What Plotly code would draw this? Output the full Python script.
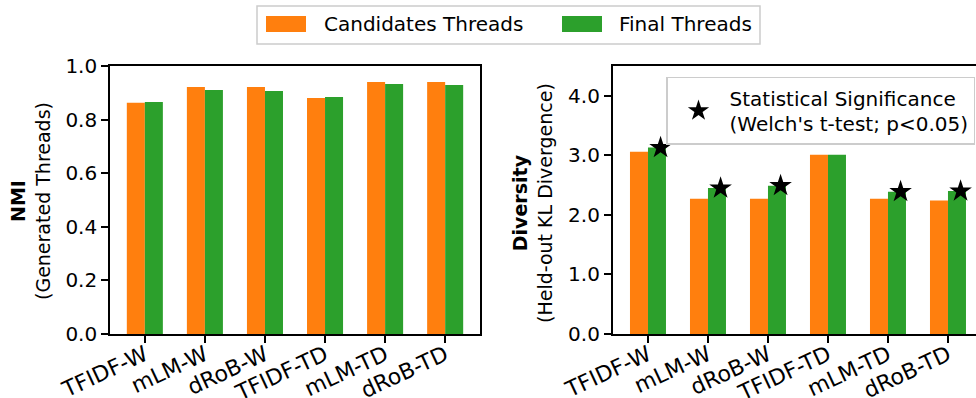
import plotly.graph_objects as go

# ---- data ----
methods = ["TFIDF-W", "mLM-W", "dRoB-W", "TFIDF-TD", "mLM-TD", "dRoB-TD"]
series_names = ["Candidates Threads", "Final Threads"]
nmi_candidates = [0.863, 0.922, 0.922, 0.881, 0.940, 0.940]
nmi_final = [0.866, 0.910, 0.907, 0.884, 0.933, 0.929]
div_candidates = [3.06, 2.27, 2.27, 3.01, 2.27, 2.24]
div_final = [3.13, 2.45, 2.49, 3.01, 2.39, 2.40]
significant = [True, True, True, False, True, True]
sig_label = "Statistical Significance<br>(Welch's t-test; p<0.05)"
nmi_ticks = [0.0, 0.2, 0.4, 0.6, 0.8, 1.0]
div_ticks = [0.0, 1.0, 2.0, 3.0, 4.0]

ORANGE = "#ff7f0e"
GREEN = "#2ca02c"
FONT = "DejaVu Sans"
W, H = 976, 398
BAR_W = 0.3
pos = list(range(len(methods)))

fig = go.Figure()

# NMI panel
fig.add_trace(go.Bar(x=[p - BAR_W / 2 for p in pos], y=nmi_candidates, width=BAR_W,
                     marker=dict(color=ORANGE, line=dict(width=0)),
                     name=series_names[0], showlegend=False, xaxis="x", yaxis="y"))
fig.add_trace(go.Bar(x=[p + BAR_W / 2 for p in pos], y=nmi_final, width=BAR_W,
                     marker=dict(color=GREEN, line=dict(width=0)),
                     name=series_names[1], showlegend=False, xaxis="x", yaxis="y"))

# Diversity panel
fig.add_trace(go.Bar(x=[p - BAR_W / 2 for p in pos], y=div_candidates, width=BAR_W,
                     marker=dict(color=ORANGE, line=dict(width=0)),
                     name=series_names[0], showlegend=False, xaxis="x2", yaxis="y2"))
fig.add_trace(go.Bar(x=[p + BAR_W / 2 for p in pos], y=div_final, width=BAR_W,
                     marker=dict(color=GREEN, line=dict(width=0)),
                     name=series_names[1], showlegend=False, xaxis="x2", yaxis="y2"))

# significance stars on the final-thread bars
sx = [p + 0.21 for p, s in zip(pos, significant) if s]
sy = [v for v, s in zip(div_final, significant) if s]
fig.add_trace(go.Scatter(x=sx, y=sy, mode="markers",
                         marker=dict(symbol="star", size=17, color="black",
                                     line=dict(width=0)),
                         name=sig_label, showlegend=True, legend="legend2",
                         xaxis="x2", yaxis="y2", cliponaxis=False))

ydom = [1 - 334 / H, 1 - 66 / H]
axis_common = dict(showline=True, linecolor="black", linewidth=1.6,
                   ticks="outside", ticklen=7, tickwidth=1.6, tickcolor="black",
                   showgrid=False, zeroline=False, automargin=False)
ytick_font = dict(family=FONT, size=20, color="black")
xtick_style = dict(tickvals=pos, ticktext=methods, tickangle=-25, mirror=True,
                   ticklabelstandoff=-9,
                   tickfont=dict(family=FONT, size=22, color="black"))

fig.update_layout(
    template="none",
    width=W, height=H,
    margin=dict(l=0, r=0, t=0, b=0, pad=0),
    paper_bgcolor="white", plot_bgcolor="white",
    font=dict(family=FONT, size=20, color="black"),
    barmode="overlay",
    xaxis=dict(domain=[110 / W, 480 / W], range=[-0.58, 5.58], anchor="y",
               **xtick_style, **axis_common),
    yaxis=dict(domain=ydom, range=[0, 1.0], anchor="x", tickvals=nmi_ticks,
               tickformat=".1f", mirror=True, tickfont=ytick_font, **axis_common),
    xaxis2=dict(domain=[612.7 / W, 1.0], range=[-0.588, 5.467], anchor="y2",
                **xtick_style, **axis_common),
    yaxis2=dict(domain=ydom, range=[0, 4.5], anchor="x2", tickvals=div_ticks,
                tickformat=".1f", mirror=False, tickfont=ytick_font, **axis_common),
    legend2=dict(x=666 / W, y=1 - 76.7 / H, xanchor="left", yanchor="top",
                 bgcolor="white", bordercolor="#cccccc", borderwidth=1.5,
                 font=dict(family=FONT, size=20, color="black"),
                 itemwidth=52, valign="middle"),
)

# y-axis titles
fig.add_annotation(x=30 / W, y=1 - 201 / H, xref="paper", yref="paper",
                   text="<b>NMI</b><br>(Generated Threads)", textangle=-90,
                   showarrow=False, xanchor="center", yanchor="middle",
                   font=dict(family=FONT, size=19, color="black"))
fig.add_annotation(x=532 / W, y=1 - 203 / H, xref="paper", yref="paper",
                   text="<b>Diversity</b><br>(Held-out KL Divergence)", textangle=-90,
                   showarrow=False, xanchor="center", yanchor="middle",
                   font=dict(family=FONT, size=19, color="black"))

# shared legend across the top
def px_x(v):
    return v / W

def px_y(v):
    return 1 - v / H

fig.add_shape(type="rect", xref="paper", yref="paper",
              x0=px_x(257), x1=px_x(760), y0=px_y(44), y1=px_y(6),
              line=dict(color="#cccccc", width=1.5), fillcolor="white", layer="above")
for name, color, patch_x, text_x in [(series_names[0], ORANGE, 266, 322),
                                     (series_names[1], GREEN, 562, 617)]:
    fig.add_shape(type="rect", xref="paper", yref="paper",
                  x0=px_x(patch_x), x1=px_x(patch_x + 40), y0=px_y(32), y1=px_y(16),
                  line=dict(width=0), fillcolor=color, layer="above")
    fig.add_annotation(x=px_x(text_x), y=px_y(24), xref="paper", yref="paper",
                       text=name, showarrow=False, xanchor="left", yanchor="middle",
                       font=dict(family=FONT, size=20, color="black"))

fig.write_html("out.html")
